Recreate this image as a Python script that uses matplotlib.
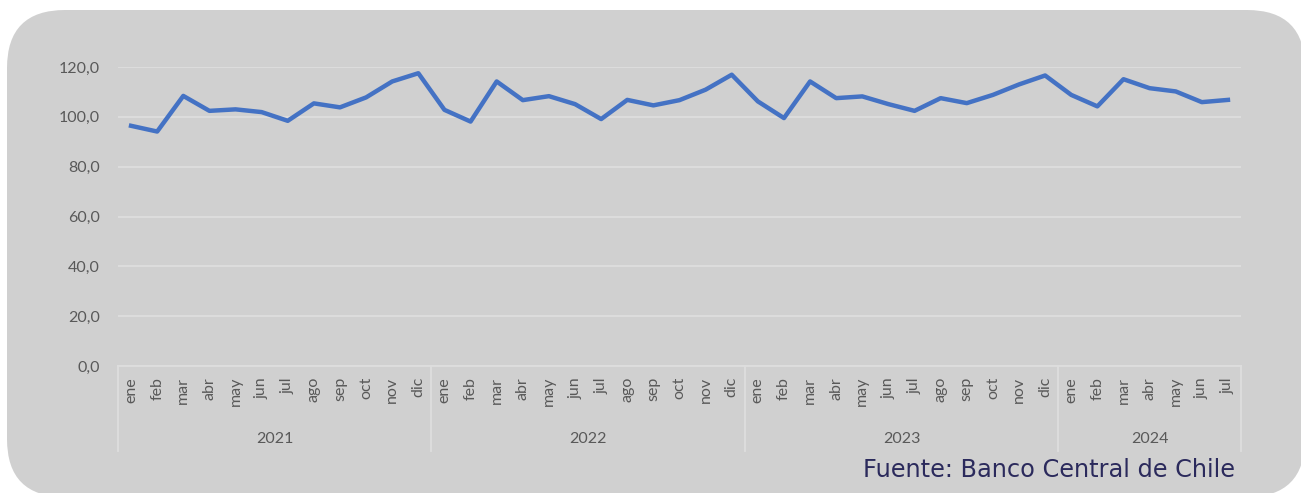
import numpy as np
import matplotlib
matplotlib.use("Agg")
import matplotlib.pyplot as plt
from matplotlib.patches import FancyBboxPatch
from matplotlib.transforms import IdentityTransform

months = ["ene", "feb", "mar", "abr", "may", "jun",
          "jul", "ago", "sep", "oct", "nov", "dic"]
years = ["2021", "2022", "2023", "2024"]
months_per_year = [12, 12, 12, 7]

values = [
    96.4, 94.1, 108.4, 102.4, 103.0, 101.9, 98.4, 105.4, 103.8, 107.8, 114.2, 117.5,
    102.8, 98.1, 114.2, 106.7, 108.3, 105.1, 99.1, 106.8, 104.6, 106.7, 110.9, 116.9,
    106.2, 99.5, 114.2, 107.5, 108.2, 105.1, 102.4, 107.5, 105.5, 108.8, 113.0, 116.6,
    108.8, 104.2, 115.1, 111.5, 110.2, 105.9, 106.8,
]
yticks = [0, 20, 40, 60, 80, 100, 120]

labels = []
for n in months_per_year:
    labels += months[:n]
x = np.arange(len(values))

fig = plt.figure(figsize=(13.01, 4.93), dpi=100)
fig.patch.set_facecolor("white")

# rounded grey card behind the chart (pixel coordinates)
card = FancyBboxPatch((7, -4), 1298, 487, boxstyle="round,pad=0,rounding_size=58",
                      transform=IdentityTransform(), facecolor="#d0d0d0",
                      edgecolor="none", zorder=-10)
fig.patches.append(card)

ax = fig.add_axes([118 / 1301, 127 / 493, 1123 / 1301, 299 / 493])
ax.set_zorder(5)
ax.set_facecolor("none")
ax.plot(x, values, color="#4472c4", lw=3.2, solid_joinstyle="round", zorder=3)

ax.set_xlim(-0.5, len(values) - 0.5)
ax.set_ylim(0, 120)
ax.set_yticks(yticks)
ax.set_yticklabels([f"{v:.1f}".replace(".", ",") for v in yticks])
ax.grid(axis="y", color="#dedede", lw=1.3)
ax.set_axisbelow(True)
for s in ["top", "right", "left"]:
    ax.spines[s].set_visible(False)
ax.spines["bottom"].set_color("#dedede")
ax.spines["bottom"].set_linewidth(1.3)

ax.set_xticks(x)
ax.set_xticklabels(labels, rotation=90)
ax.tick_params(axis="both", length=0, labelsize=11.5, labelcolor="#595959")
ax.tick_params(axis="y", pad=13)
ax.tick_params(axis="x", pad=8)
for t in ax.get_xticklabels() + ax.get_yticklabels():
    t.set_family("Lato")

# year group labels and separators
trans = ax.get_xaxis_transform()
edges = np.concatenate([[0], np.cumsum(months_per_year)]) - 0.5
for e in edges:
    ax.plot([e, e], [0, -0.283], color="#dedede", lw=1.3, transform=trans, clip_on=False)
for i, yr in enumerate(years):
    mid = (edges[i] + edges[i + 1]) / 2
    ax.text(mid, -0.245, yr, transform=trans, ha="center", va="center",
            fontsize=11.5, color="#595959", family="Lato")

fig.text(1235 / 1301, 1 - 470 / 493, "Fuente: Banco Central de Chile",
         ha="right", va="center", fontsize=17.3, color="#2b2a5c", family="DejaVu Sans")

fig.savefig("out.png", dpi=100)
